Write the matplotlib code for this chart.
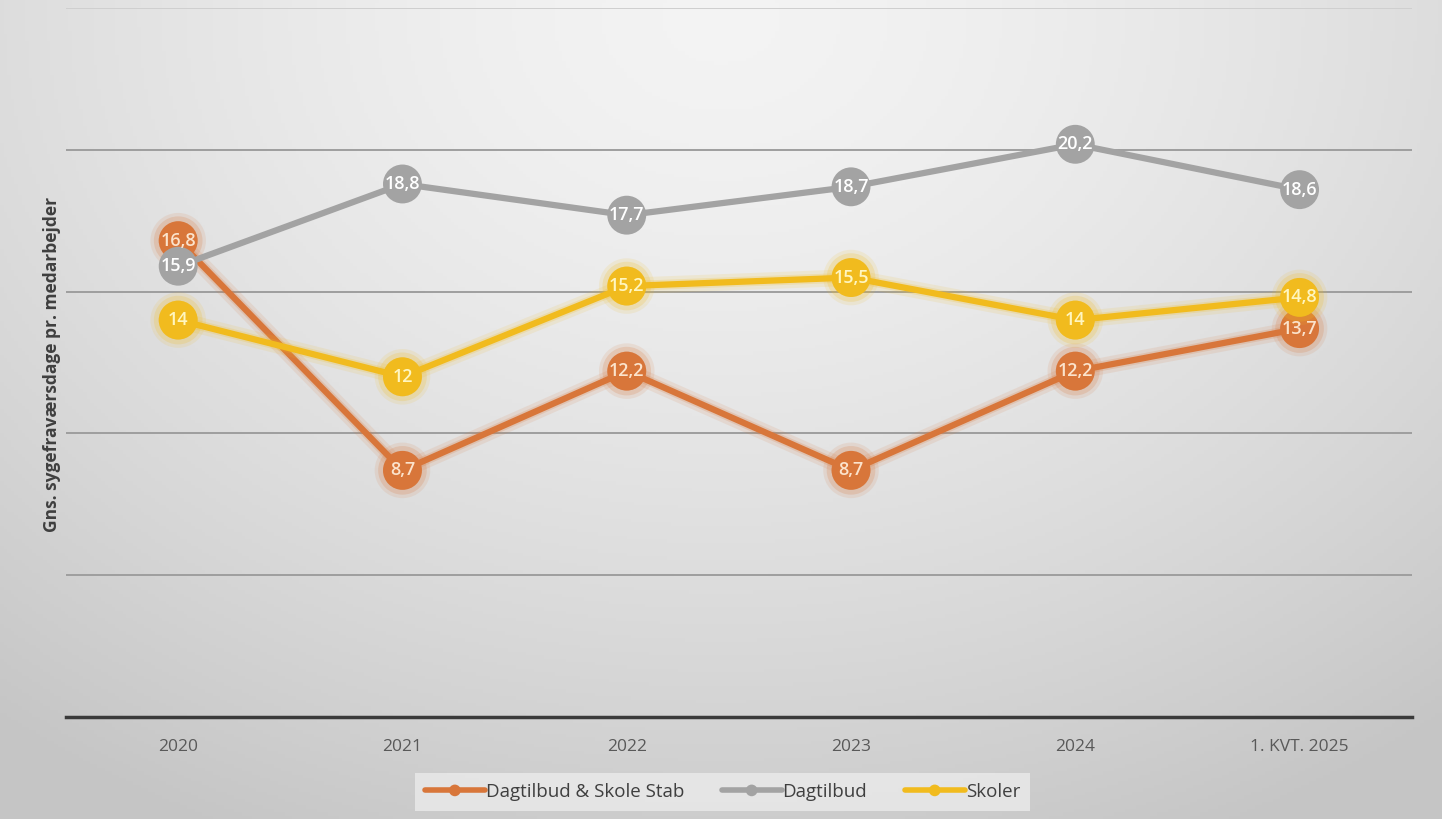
import numpy as np
import matplotlib
matplotlib.use('Agg')
import matplotlib.pyplot as plt
import matplotlib.patheffects as pe

plt.rcParams['font.family'] = ['Open Sans', 'DejaVu Sans']

categories = ['2020', '2021', '2022', '2023', '2024', '1. KVT. 2025']
stab = [16.8, 8.7, 12.2, 8.7, 12.2, 13.7]
dagtilbud = [15.9, 18.8, 17.7, 18.7, 20.2, 18.6]
skoler = [14, 12, 15.2, 15.5, 14, 14.8]

series = [
    ('Dagtilbud & Skole Stab', stab, '#D8763A', '#FBE3CC', True),
    ('Dagtilbud', dagtilbud, '#A3A3A3', '#FFFFFF', False),
    ('Skoler', skoler, '#F1BB1E', '#FFF6C0', True),
]

def fmt(v):
    if float(v).is_integer():
        return str(int(v))
    return ('%.1f' % v).replace('.', ',')

fig = plt.figure(figsize=(14.42, 8.19), dpi=100)

# radial grey background
bg = fig.add_axes([0, 0, 1, 1], zorder=-10)
xx, yy = np.meshgrid(np.linspace(0, 1, 400), np.linspace(0, 1, 240))
d = np.sqrt(((xx - 0.5) / 0.8) ** 2 + ((yy - 0.02) / 1.1) ** 2)
d = np.clip(d, 0, 1)
shade = 0.955 - 0.18 * d ** 1.5
bg.imshow(np.dstack([shade] * 3), extent=[0, 1, 0, 1], aspect='auto', origin='upper')
bg.axis('off')

ax = fig.add_axes([0.0458, 0.1245, 0.9332, 0.8655])
ax.set_facecolor('none')
x = np.arange(len(categories))

for name, vals, col, tcol, glow in series:
    effects = [pe.Normal()]
    if glow:
        effects = [pe.Stroke(linewidth=12, foreground=col, alpha=0.12),
                   pe.Stroke(linewidth=7, foreground=col, alpha=0.2), pe.Normal()]
    ax.plot(x, vals, '-o', color=col, lw=4.5, marker='o', markersize=28,
            markeredgewidth=0, label=name, path_effects=effects, solid_capstyle='round')
    for xi, v in zip(x, vals):
        ax.text(xi, v, fmt(v), ha='center', va='center', color=tcol,
                fontsize=13, fontweight='semibold', zorder=5)

ax.set_xlim(-0.5, len(categories) - 0.5)
ax.set_ylim(0, 25)
ax.set_yticks([5, 10, 15, 20, 25])
ax.yaxis.grid(True, color='#9E9E9E', lw=1.4)
ax.get_ygridlines()[-1].set_color('#CFCFCF')
ax.set_axisbelow(True)
ax.tick_params(axis='y', left=False, labelleft=False)
ax.tick_params(axis='x', bottom=False, labelsize=12.5, labelcolor='#595959', pad=12)
ax.set_xticks(x)
ax.set_xticklabels(categories)
for s in ['top', 'right', 'left']:
    ax.spines[s].set_visible(False)
ax.spines['bottom'].set_color('#3A3A3A')
ax.spines['bottom'].set_linewidth(2.5)

fig.text(0.036, 0.555, 'Gns. sygefraværsdage pr. medarbejder', rotation=90,
         ha='center', va='center', fontsize=12.5, fontweight='bold', color='#3F3F3F')

handles, labels = ax.get_legend_handles_labels()
leg = fig.legend(handles, labels, loc='center', bbox_to_anchor=(0.501, 0.033), ncol=3,
                 frameon=True, fontsize=13.5, markerscale=0.3, handlelength=3.2,
                 handletextpad=0.05, columnspacing=2.0, borderpad=0.55, fancybox=False)
leg.get_frame().set_facecolor('#EBEBEB')
leg.get_frame().set_edgecolor('none')
for t in leg.get_texts():
    t.set_color('#3F3F3F')
for h in leg.legend_handles:
    h.set_path_effects([pe.Normal()])
    h.set_linewidth(4)

fig.savefig('out.png', dpi=100)
